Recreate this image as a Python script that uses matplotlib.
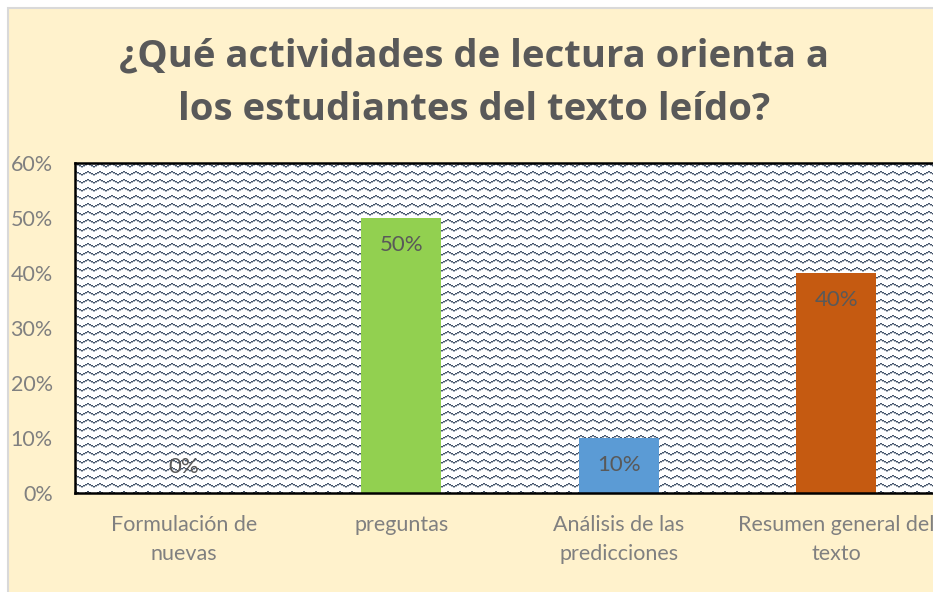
import numpy as np
import matplotlib.pyplot as plt
from matplotlib.patches import Rectangle
from matplotlib.ticker import PercentFormatter

# data
categories = ["Formulación de\nnuevas", "preguntas", "Análisis de las\npredicciones", "Resumen general del\ntexto"]
values = [0.0, 0.50, 0.10, 0.40]
bar_colors = ["#92D050", "#92D050", "#5B9BD5", "#C55A11"]
title = "¿Qué actividades de lectura orienta a\nlos estudiantes del texto leído?"
y_ticks = [0, 0.1, 0.2, 0.3, 0.4, 0.5, 0.6]

plt.rcParams['font.family'] = ['Lato', 'DejaVu Sans']

W, H = 933, 592
fig = plt.figure(figsize=(W / 100, H / 100), dpi=100, facecolor="white")

# cream chart area with light grey border
fig.patches.append(Rectangle((8 / W, -0.05), 1.2, (H - 8) / H + 0.05, transform=fig.transFigure,
                             facecolor="#FFF2CC", edgecolor="#D9D9D9", linewidth=1.5, zorder=0))

left, top, bottom, right = 75, 163, 493, 945
ax = fig.add_axes([left / W, (H - bottom) / H, (right - left) / W, (bottom - top) / H])
ax.set_zorder(2)
ax.set_facecolor("white")

# wave pattern fill of the plot area (12x8 tile)
wave = [0, 0, 1, 1, 2, 2, 3, 3, 2, 2, 1, 1]
tile = np.zeros((8, 12))
for x, y in enumerate(wave):
    tile[y, x] = 1
    tile[y + 1, x] = max(tile[y + 1, x], 0.45)
px_w, px_h = right - left, bottom - top
tex = np.tile(tile, (px_h // 8 + 1, px_w // 12 + 1))[:px_h, :px_w]
dark = np.array([0x44, 0x54, 0x6A]) / 255
rgb = 1 - tex[..., None] * (1 - dark)
n = len(categories)
ax.imshow(rgb, extent=(-0.5, n - 0.5, 0, 0.6), aspect="auto", interpolation="nearest", zorder=0)

xpos = np.arange(n)
bars = ax.bar(xpos, values, width=0.37, color=bar_colors, zorder=2)

for b, v in zip(bars, values):
    off = -27 if v > 0 else 26
    ax.annotate(f"{v:.0%}", (b.get_x() + b.get_width() / 2, v), xytext=(0, off),
                textcoords="offset pixels", ha="center", va="center",
                fontsize=16, color="#595959", zorder=3)

ax.set_xlim(-0.5, n - 0.5)
ax.set_ylim(0, 0.6)
ax.set_yticks(y_ticks)
ax.yaxis.set_major_formatter(PercentFormatter(1.0, decimals=0))
ax.set_xticks(xpos)
ax.set_xticklabels(categories, linespacing=1.6, va="top")
ax.tick_params(axis="both", length=0, labelsize=15.5, colors="#808080")
ax.tick_params(axis="y", pad=16)
ax.tick_params(axis="x", pad=15.5)

for s in ["left", "top", "bottom"]:
    ax.spines[s].set_color("black")
    ax.spines[s].set_linewidth(1.8)
ax.spines["right"].set_visible(False)

fig.text(474 / W, 1 - 83 / H, title, ha="center", va="center", fontsize=27.5,
         fontweight="bold", color="#595959", linespacing=1.55,
         family=["Open Sans", "DejaVu Sans"])

fig.savefig("out.png", dpi=100, facecolor=fig.get_facecolor())
